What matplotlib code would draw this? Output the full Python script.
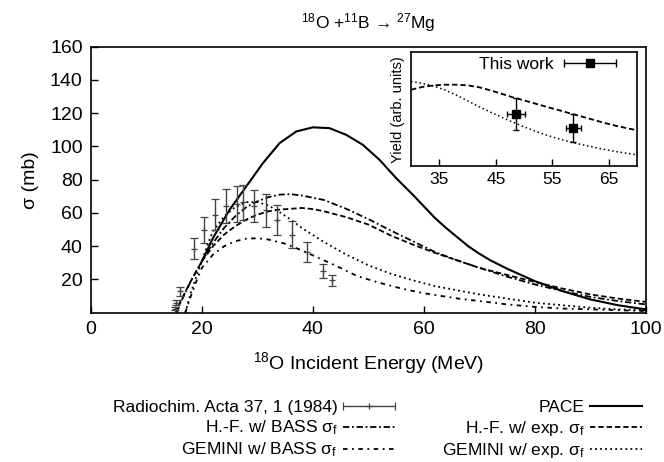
import numpy as np
import matplotlib
matplotlib.use("Agg")
import matplotlib.pyplot as plt
from matplotlib.container import ErrorbarContainer
from matplotlib.legend_handler import HandlerErrorbar

plt.rcParams['font.family'] = ['Liberation Sans', 'DejaVu Sans']
plt.rcParams['mathtext.fontset'] = 'custom'
plt.rcParams['mathtext.rm'] = 'Liberation Sans'
plt.rcParams['mathtext.it'] = 'Liberation Sans:italic'

# datos experimentales (Radiochim. Acta 37, 1 (1984))
exp_E = [15.2, 15.4, 16.0, 18.6, 20.3, 22.3, 24.4, 26.3, 27.4, 29.3, 31.5, 33.6, 36.2, 39.0, 41.9, 43.4]
exp_sig = [2.5, 6, 13, 38.5, 49.5, 59, 64, 65.5, 66.5, 64, 61.5, 56, 47, 36.5, 25, 19.5]
exp_err = [0.8, 1.5, 2.7, 6.2, 7.8, 9.3, 10.2, 10.7, 10.5, 9.7, 10, 9, 8, 5.8, 4.3, 3.2]

# PACE
pace_E = [20, 22, 25, 28, 31, 34, 37, 40, 43, 46, 49, 52, 55, 58, 60, 62, 64, 66, 68, 70, 72, 75, 80, 85, 90, 95, 100]
pace_sig = [31, 45, 62, 76, 90, 102, 109, 111.5, 111, 107, 101, 92, 81, 71, 64, 57, 51, 45.5, 40, 35.5, 31.5,
            26.5, 19, 13, 8, 4.5, 2]

# H.-F. w/ BASS
hfb_E = [15.5, 16, 17, 18, 19, 20, 22, 24, 26, 28, 30, 32, 34, 36, 38, 42, 46, 50, 54, 58, 62, 66, 70, 75, 80, 85, 90, 95, 100]
hfb_sig = [0, 5, 12, 19, 25, 31, 42, 51, 58, 63.5, 67, 69.5, 71, 71.3, 70.5, 67.8, 62.5, 56.3, 49.5, 43, 36.5, 31.5, 27, 21.7, 17, 13, 9.5, 7, 5]

# H.-F. w/ exp.
hfe_E = [15.2, 16, 17, 18, 19, 20, 22, 24, 26, 28, 30, 32, 34, 36, 38, 40, 42, 46, 50, 54, 58, 62, 66, 70, 75, 80, 85, 90, 95, 100]
hfe_sig = [0, 6, 12.5, 19, 25, 31, 40, 47, 52, 56, 59, 61, 62, 62.5, 63, 62.3, 61, 57.5, 53, 46.5, 41, 36, 31.5, 27, 22.7, 18.5, 14.5, 11, 8.5, 6.5]

# GEMINI w/ BASS
gb_E = [17, 17.5, 18, 19, 20, 22, 24, 26, 28, 30, 32, 35, 38, 41, 44, 48, 52, 56, 60, 66, 70, 75, 80, 85, 90, 95, 100]
gb_sig = [0, 5, 10, 19, 27, 35, 40, 43, 44.5, 44.8, 44, 41.5, 37.5, 33, 28.5, 22, 18, 14.5, 11.7, 8.6, 7, 5, 3.5, 2.5, 2, 1.5, 1]

# GEMINI w/ exp.
ge_E = [17, 17.5, 18, 19, 20, 21, 22, 24, 26, 28, 30, 32, 34, 36, 38, 42, 46, 50, 54, 58, 62, 66, 70, 75, 80, 85, 90, 95, 100]
ge_sig = [0, 6, 12, 22, 31, 41, 49, 58, 63.5, 66.5, 66.5, 64.5, 60.5, 56, 51, 42.5, 35, 28.5, 23.5, 19.5, 16, 13.5, 11, 8.5, 6, 4.5, 3, 2, 1.5]

# inset
ins_E = [30, 32, 34, 36, 38, 40, 42, 44, 46, 48, 50, 52, 54, 56, 58, 60, 62, 64, 66, 68, 70]
ins_hf = [0.670, 0.694, 0.708, 0.714, 0.714, 0.708, 0.692, 0.665, 0.635, 0.603, 0.576, 0.548, 0.52, 0.493,
          0.465, 0.438, 0.41, 0.382, 0.357, 0.335, 0.315]
ins_gem = [0.744, 0.725, 0.702, 0.668, 0.623, 0.573, 0.522, 0.475, 0.43, 0.386, 0.345, 0.307, 0.272, 0.242,
           0.215, 0.192, 0.17, 0.149, 0.131, 0.115, 0.10]
tw_E = [48.5, 58.7]
tw_y = [0.458, 0.335]
tw_xerr = [1.6, 1.3]
tw_yerr = [0.143, 0.12]

fig = plt.figure(figsize=(6.64, 4.62), dpi=100)
ax = fig.add_axes([91/664, 1-312.7/462, (645.7-91)/664, (312.7-46.7)/462])

st_hfb = (0, (3.5, 1.5, 1, 1.5))
st_hfe = (0, (3, 1.6))
st_gb = (0, (2.5, 2.5, 1, 2.5))
st_ge = (0, (1, 1.8))

ax.errorbar(exp_E, exp_sig, yerr=exp_err, fmt='+', color='#444444', ms=4, mew=0.9,
            elinewidth=1.0, capsize=3, capthick=1.0, zorder=3)
l_pace, = ax.plot(pace_E, pace_sig, color='k', lw=1.5, label='PACE')
l_hfb, = ax.plot(hfb_E, hfb_sig, color='k', lw=1.3, ls=st_hfb, label=r'H.-F. w/ BASS σ$_\mathrm{f}$')
l_hfe, = ax.plot(hfe_E, hfe_sig, color='k', lw=1.3, ls=st_hfe, label=r'H.-F. w/ exp. σ$_\mathrm{f}$')
l_gb, = ax.plot(gb_E, gb_sig, color='k', lw=1.3, ls=st_gb, label=r'GEMINI w/ BASS σ$_\mathrm{f}$')
l_ge, = ax.plot(ge_E, ge_sig, color='k', lw=1.3, ls=st_ge, label=r'GEMINI w/ exp. σ$_\mathrm{f}$')

# muestra de leyenda con barra horizontal (estilo gnuplot)
h_exp = ax.errorbar([np.nan], [np.nan], xerr=[1.0], fmt='+', color='#444444', ms=4, mew=0.9,
                    elinewidth=1.0, capsize=3, capthick=1.0, label='Radiochim. Acta 37, 1 (1984)')

ax.set_xlim(0, 100)
ax.set_ylim(0, 160)
ax.set_xticks([0, 20, 40, 60, 80, 100])
ax.set_yticks([20, 40, 60, 80, 100, 120, 140, 160])
ax.tick_params(direction='in', length=5, width=1, labelsize=14, pad=6, top=False, right=False)
for s in ax.spines.values():
    s.set_linewidth(1.2)
ax.set_xlabel(r'$^{18}$O Incident Energy (MeV)', fontsize=14, labelpad=9)
ax.set_ylabel('σ (mb)', fontsize=14, labelpad=8)
ax.set_title(r'$^{18}$O +$^{11}$B → $^{27}$Mg', fontsize=12.5, pad=13)

leg_kw = dict(frameon=False, markerfirst=False, borderpad=0, borderaxespad=0, handlelength=3.0,
              handletextpad=0.3, labelspacing=0.2, fontsize=12.5,
              handler_map={ErrorbarContainer: HandlerErrorbar(xerr_size=1.5)})
fig.legend([h_exp, l_hfb, l_gb], [h_exp.get_label(), l_hfb.get_label(), l_gb.get_label()],
           loc='upper right', bbox_to_anchor=(395/664, 1-400/462), **leg_kw)
fig.legend([l_pace, l_hfe, l_ge], [l_pace.get_label(), l_hfe.get_label(), l_ge.get_label()],
           loc='upper right', bbox_to_anchor=(642/664, 1-400/462), **leg_kw)

# recuadro: rendimiento de este trabajo
axi = fig.add_axes([411/664, 1-166.3/462, 226.3/664, 114.3/462])
axi.plot(ins_E, ins_hf, color='k', lw=1.3, ls=st_hfe)
axi.plot(ins_E, ins_gem, color='k', lw=1.1, ls=st_ge)
axi.errorbar(tw_E, tw_y, xerr=tw_xerr, yerr=tw_yerr, fmt='s', color='k', ms=5.5,
             elinewidth=1.0, capsize=2.5, capthick=1.0)
h_tw = axi.errorbar([np.nan], [np.nan], xerr=[1.0], fmt='s', color='k', ms=5.5,
                    elinewidth=1.0, capsize=3, capthick=1.0, label='This work')
axi.set_xlim(30, 70)
axi.set_ylim(0, 1)
axi.set_xticks([35, 45, 55, 65])
axi.set_yticks([])
axi.tick_params(direction='in', length=5, width=1, labelsize=12.5, pad=4, top=False, right=False)
for s in axi.spines.values():
    s.set_linewidth(1.2)
axi.set_ylabel('Yield (arb. units)', fontsize=10.5, labelpad=4)
axi.legend([h_tw], ['This work'], loc='upper right', frameon=False, markerfirst=False,
           handlelength=3.0, handletextpad=0.6, fontsize=12.5, borderpad=0, borderaxespad=0,
           bbox_to_anchor=(616/664, 1-57/462), bbox_transform=fig.transFigure,
           handler_map={ErrorbarContainer: HandlerErrorbar(xerr_size=1.5)})

fig.savefig('out.png', dpi=100)
